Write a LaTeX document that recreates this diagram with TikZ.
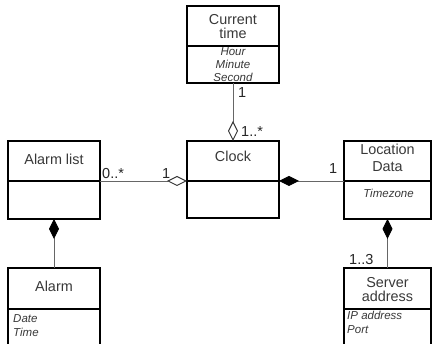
\documentclass[tikz,border=0pt]{standalone}
\usepackage{fontspec}
\setmainfont{Liberation Sans}
\usetikzlibrary{arrows.meta}
\begin{document}
\begin{tikzpicture}[x=1pt,y=-1pt,
  hdr/.style={draw=black, line width=1.3pt, minimum width=92pt, inner sep=0pt, outer sep=0pt, anchor=north west},
  bdy/.style={draw=black, line width=1.3pt, minimum width=92pt, inner sep=0pt, outer sep=0pt, anchor=north},
  conn/.style={draw=black!60, line width=0.9pt},
  ttl/.style={font=\fontsize{14.4}{16}\selectfont, text=black!78, anchor=base, inner sep=0pt},
  attr/.style={font=\fontsize{11.5}{13}\selectfont\itshape, text=black!78, anchor=base, inner sep=0pt},
  mult/.style={font=\fontsize{14.5}{16}\selectfont, text=black!85, anchor=base west, inner sep=0pt},
  agg/.style={{Diamond[open, color=black!80, fill=white, length=20pt, width=10pt]}-},
  comp/.style={{Diamond[color=black, length=20pt, width=10pt]}-}
]
\useasboundingbox (0,0) rectangle (432,344);
\clip (0,0) rectangle (432,344);

% Current time
\node[hdr, minimum height=40pt] (ct) at (187,6) {};
\node[bdy, minimum height=37pt] (ctB) at (ct.south) {};
\node[ttl] (ctT1) at (233,25) {Current};
\node[ttl] (ctT2) at (233,39) {time};
\node[attr] (ctA1) at (233,56) {Hour};
\node[attr] (ctA2) at (233,69) {Minute};
\node[attr] (ctA3) at (233,82) {Second};

% Clock
\node[hdr, minimum height=40pt] (clock) at (187,141) {};
\node[bdy, minimum height=37pt] (clockB) at (clock.south) {};
\node[ttl] (clockT) at (233,162) {Clock};

% Alarm list
\node[hdr, minimum height=40pt] (alist) at (8,141) {};
\node[bdy, minimum height=38pt] (alistB) at (alist.south) {};
\node[ttl] (alistT) at (54,165) {Alarm list};

% Location Data
\node[hdr, minimum width=87pt, minimum height=40pt] (loc) at (344,141) {};
\node[bdy, minimum width=87pt, minimum height=38pt] (locB) at (loc.south) {};
\node[ttl] (locT1) at (387.5,155) {Location};
\node[ttl] (locT2) at (387.5,172) {Data};
\node[attr] (locA) at (388.5,198) {Timezone};

% Alarm
\node[hdr, minimum height=41pt] (alarm) at (8,268) {};
\node[bdy, minimum height=60pt] (alarmB) at (alarm.south) {};
\node[ttl] (alarmT) at (54,292) {Alarm};
\node[attr, anchor=base west] (alarmA1) at (13,323) {Date};
\node[attr, anchor=base west] (alarmA2) at (13,337) {Time};

% Server address
\node[hdr, minimum width=87pt, minimum height=41pt] (server) at (344,268) {};
\node[bdy, minimum width=87pt, minimum height=60pt] (serverB) at (server.south) {};
\node[ttl] (serverT1) at (387.5,288) {Server};
\node[ttl] (serverT2) at (387.5,302) {address};
\node[attr, anchor=base west] (serverA1) at (347,320) {IP address};
\node[attr, anchor=base west] (serverA2) at (347,334) {Port};

% connectors
\draw[conn, agg] (clock.north) -- (ctB.south);
\draw[conn, agg] (clock.south west) -- (alist.south east);
\draw[conn, comp] (clock.south east) -- (loc.south west);
\draw[conn, comp] (alistB.south) -- (alarm.north);
\draw[conn, comp] (locB.south) -- (server.north);

% multiplicities
\node[mult] (m1) at (238,98) {1};
\node[mult] (m2) at (241,137) {1..*};
\node[mult] (m3) at (102,179) {0..*};
\node[mult] (m4) at (162,179) {1};
\node[mult] (m5) at (329,174) {1};
\node[mult] (m6) at (349,265) {1..3};
\end{tikzpicture}
\end{document}
